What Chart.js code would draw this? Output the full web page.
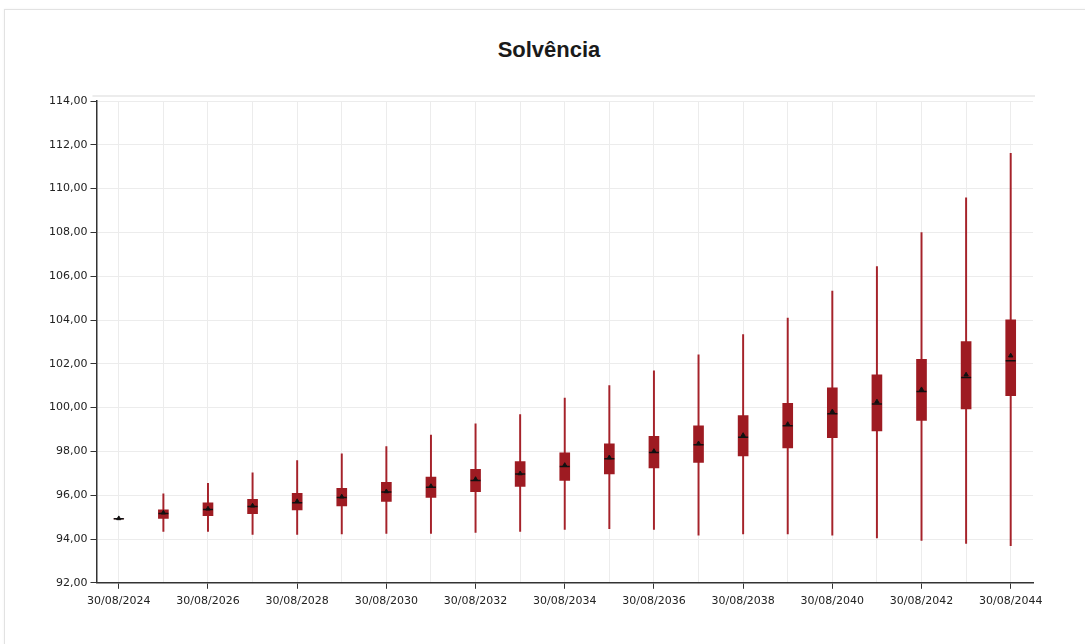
<!DOCTYPE html>
<html>
<head>
<meta charset="utf-8">
<script src="https://cdn.jsdelivr.net/npm/chart.js@4"></script>
<style>
  html, body { margin: 0; padding: 0; background: #fff; overflow: hidden; }
  #wrap { position: relative; width: 1085px; height: 644px; }
  #card { position: absolute; left: 4px; top: 9px; width: 1100px; height: 660px; border: 1px solid #e2e2e2; box-shadow: 0 0 2px rgba(0,0,0,0.06); }
  #solv-chart { position: absolute; left: 0; top: 0; }
  #title { position: absolute; left: 0; top: 37px; width: 1098px; text-align: center;
           font: bold 22px "Liberation Sans", Arial, sans-serif; line-height: 26px; color: #1a1a1a; }
</style>
</head>
<body>
<div id="wrap">
  <div id="card"></div>
  <div id="title">Solvência</div>
  <canvas id="solv-chart" width="1085" height="644"></canvas>
</div>
<script>
// datas de avaliação (uma por ano)
const labels = ["30/08/2024", "30/08/2025", "30/08/2026", "30/08/2027", "30/08/2028", "30/08/2029", "30/08/2030",
  "30/08/2031", "30/08/2032", "30/08/2033", "30/08/2034", "30/08/2035", "30/08/2036", "30/08/2037",
  "30/08/2038", "30/08/2039", "30/08/2040", "30/08/2041", "30/08/2042", "30/08/2043", "30/08/2044"];

// distribuição da solvência (%)
const mins    = [94.92, 94.35, 94.35, 94.21, 94.21, 94.23, 94.26, 94.26, 94.30, 94.35, 94.44, 94.47, 94.44, 94.18, 94.23, 94.23, 94.18, 94.05, 93.94, 93.80, 93.69];
const q1s     = [94.92, 94.94, 95.06, 95.16, 95.33, 95.51, 95.72, 95.90, 96.16, 96.40, 96.68, 96.97, 97.25, 97.50, 97.79, 98.16, 98.63, 98.94, 99.42, 99.94, 100.54];
const medians = [94.92, 95.16, 95.35, 95.48, 95.66, 95.89, 96.15, 96.36, 96.67, 96.97, 97.31, 97.66, 97.95, 98.30, 98.65, 99.17, 99.72, 100.16, 100.74, 101.38, 102.14];
const means   = [94.94, 95.20, 95.38, 95.52, 95.72, 95.93, 96.17, 96.41, 96.73, 96.99, 97.37, 97.72, 98.01, 98.36, 98.74, 99.24, 99.82, 100.27, 100.83, 101.50, 102.37];
const q3s     = [94.92, 95.33, 95.65, 95.81, 96.08, 96.31, 96.59, 96.83, 97.18, 97.53, 97.93, 98.34, 98.69, 99.17, 99.64, 100.20, 100.90, 101.50, 102.20, 103.02, 104.01];
const maxs    = [94.92, 96.06, 96.54, 97.02, 97.58, 97.89, 98.22, 98.75, 99.26, 99.68, 100.43, 101.00, 101.68, 102.41, 103.33, 104.09, 105.32, 106.44, 107.99, 109.58, 111.61];

const yTicks = { min: 92, max: 114, step: 2 };

const red = "#9e1b22";
const fmt = v => v.toFixed(2).replace(".", ",");

// linha cinza no topo da área do gráfico
const topLine = {
  id: "topLine",
  beforeDraw(chart) {
    const { ctx, chartArea } = chart;
    ctx.save();
    ctx.strokeStyle = "#e6e6e6";
    ctx.lineWidth = 1.5;
    ctx.beginPath();
    ctx.moveTo(chartArea.left - 4, chartArea.top - 5);
    ctx.lineTo(chartArea.right + 2, chartArea.top - 5);
    ctx.stroke();
    ctx.restore();
  }
};

new Chart(document.getElementById("solv-chart"), {
  type: "bar",
  data: {
    labels,
    datasets: [
      {
        label: "min-max",
        data: labels.map((_, i) => [mins[i], maxs[i]]),
        backgroundColor: "#a5222a",
        barThickness: 1.3,
        grouped: false,
        order: 4
      },
      {
        label: "q1-q3",
        data: labels.map((_, i) => [q1s[i], q3s[i]]),
        backgroundColor: red,
        barThickness: 10,
        grouped: false,
        order: 3
      },
      {
        type: "line",
        label: "Mediana",
        data: medians,
        showLine: false,
        pointStyle: "line",
        pointRadius: 5,
        borderColor: "#111",
        borderWidth: 1.5,
        order: 2
      },
      {
        type: "line",
        label: "Média",
        data: means,
        showLine: false,
        pointStyle: "triangle",
        pointRadius: 2.5,
        backgroundColor: "#111",
        borderColor: "#111",
        borderWidth: 1,
        order: 1
      }
    ]
  },
  options: {
    responsive: false,
    animation: false,
    layout: { padding: { left: 46, right: 52, top: 101, bottom: 30 } },
    plugins: {
      legend: { display: false },
      tooltip: { enabled: false },
      title: { display: false }
    },
    scales: {
      x: {
        offset: true,
        grid: {
          offset: false,
          color: "#ececec",
          tickLength: 6,
          tickColor: c => (c.index % 2 === 0 ? "#333" : "rgba(0,0,0,0)")
        },
        border: { color: "#333", width: 1.5 },
        ticks: {
          autoSkip: false,
          maxRotation: 0,
          padding: 6,
          color: "#222",
          font: { family: "DejaVu Sans", size: 11 },
          callback: (v, i) => (i % 2 === 0 ? labels[i] : "")
        }
      },
      y: {
        min: yTicks.min,
        max: yTicks.max,
        grid: { color: "#ececec", tickLength: 6, tickColor: "#333" },
        border: { color: "#333", width: 1.5 },
        ticks: {
          stepSize: yTicks.step,
          padding: 3,
          color: "#222",
          font: { family: "DejaVu Sans", size: 11 },
          callback: v => fmt(v)
        }
      }
    }
  },
  plugins: [topLine]
});
</script>
</body>
</html>
